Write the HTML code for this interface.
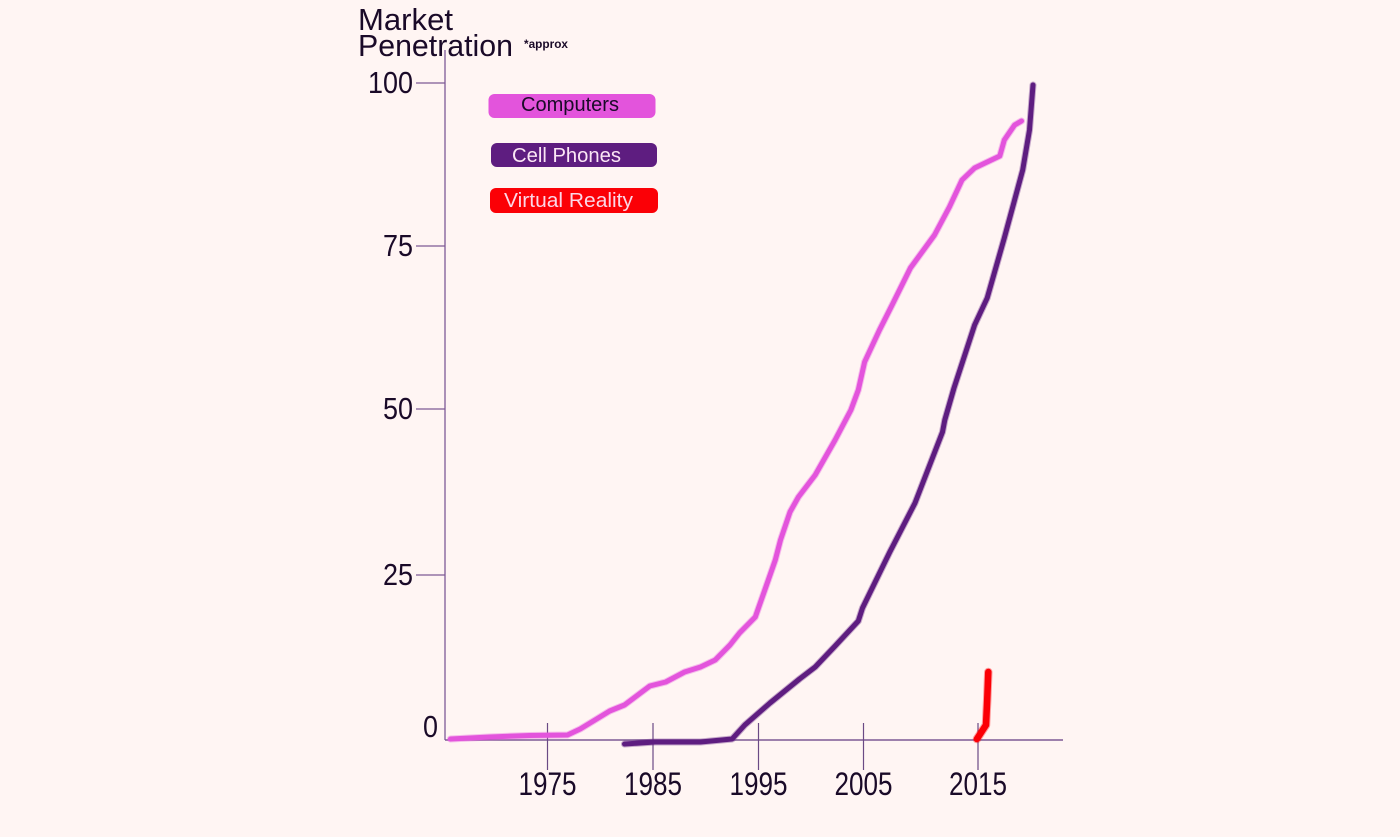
<!DOCTYPE html>
<html lang="en">
<head>
<meta charset="utf-8">
<title>Market Penetration</title>
<style>
html,body{margin:0;padding:0;background:#fff5f3;}
svg{display:block;font-family:"Liberation Sans",sans-serif;}
</style>
</head>
<body>
<svg id="chart" xmlns="http://www.w3.org/2000/svg" width="1400" height="837" viewBox="0 0 1400 837">
  <rect x="0" y="0" width="1400" height="837" fill="#fff5f3"/>
  <g id="axes"></g>
  <g id="series"></g>
  <text x="358" y="30" font-size="31" fill="#1a0a28" textLength="95" lengthAdjust="spacingAndGlyphs">Market</text>
  <text x="358" y="56" font-size="31" fill="#1a0a28" textLength="155" lengthAdjust="spacingAndGlyphs">Penetration</text>
  <text x="524" y="48" font-size="12" font-weight="bold" fill="#1a0a28" textLength="44" lengthAdjust="spacingAndGlyphs">*approx</text>
  <g>
    <g>
      <rect x="488.5" y="94" width="167" height="24" rx="6" fill="#e354dc"/>
      <text x="521" y="111" font-size="20" fill="#1a0a28" textLength="98" lengthAdjust="spacingAndGlyphs">Computers</text>
    </g>
    <g>
      <rect x="491" y="143" width="166" height="24" rx="6" fill="#5e1d80"/>
      <text x="512" y="162" font-size="20" fill="#fbe6f5" textLength="109" lengthAdjust="spacingAndGlyphs">Cell Phones</text>
    </g>
    <g>
      <rect x="490" y="188" width="168" height="25" rx="6" fill="#fb0006"/>
      <text x="504" y="207" font-size="20" fill="#fbd6e6" textLength="129" lengthAdjust="spacingAndGlyphs">Virtual Reality</text>
    </g>
  </g>
</svg>
<script>
const xTickYears = [1975, 1985, 1995, 2005, 2015];
const yTickValues = [0, 25, 50, 75, 100];

const computersYears = [1965.8, 1969.5, 1973.3, 1976.9, 1978.1, 1979.5, 1980.9, 1982.3, 1984.7, 1986.2, 1988, 1989.5, 1990.9, 1992.3, 1993.2, 1994.7, 1995.6, 1996.6, 1997.1, 1998, 1998.8, 2000.4, 2002.3, 2003.8, 2004.5, 2005.1, 2006.4, 2007.5, 2009.1, 2011.2, 2012.5, 2013.6, 2014.7, 2016.9, 2017.3, 2018.2, 2018.8];
const computersValues = [0.15, 0.45, 0.68, 0.76, 1.67, 3.03, 4.39, 5.3, 8.18, 8.79, 10.3, 11.06, 12.12, 14.39, 16.21, 18.64, 22.73, 27.26, 30.27, 34.49, 36.75, 40.06, 45.33, 49.85, 52.91, 57.21, 62.12, 65.95, 71.63, 76.69, 80.98, 85.12, 86.96, 88.8, 91.26, 93.56, 94.17];

const cellPhonesYears = [1982.3, 1985.2, 1989.5, 1992.5, 1993.7, 1996.1, 1998.9, 2000.4, 2002.3, 2004.5, 2004.9, 2007.3, 2009.5, 2011.9, 2012.1, 2012.9, 2014.7, 2015.8, 2017.3, 2018.2, 2018.9, 2019.5, 2019.8];
const cellPhonesValues = [-0.61, -0.3, -0.3, 0.15, 2.27, 5.61, 9.24, 11.06, 14.24, 18.03, 20, 28.46, 35.84, 46.53, 48.34, 53.22, 62.88, 67.02, 76.23, 82.06, 86.66, 92.79, 99.69];

const virtualRealityYears = [2014.9, 2015.7, 2015.8, 2015.9];
const virtualRealityValues = [0.15, 2.27, 6.06, 10.3];

const SVG_NS = 'http://www.w3.org/2000/svg';

function piecewise(domain, range, input) {
  let i = 0;
  while (i < domain.length - 2 && input > domain[i + 1]) i++;
  const t = (input - domain[i]) / (domain[i + 1] - domain[i]);
  return range[i] + t * (range[i + 1] - range[i]);
}

function xScale(year) {
  return piecewise([1975, 1985, 1995, 2005, 2015], [547.5, 653, 758.5, 863.5, 978], year);
}

function yScale(value) {
  return piecewise([0, 25, 50, 75, 100], [740, 575, 409, 246, 83], value);
}

function make(tag, attrs) {
  const el = document.createElementNS(SVG_NS, tag);
  Object.keys(attrs).forEach(function (k) { el.setAttribute(k, attrs[k]); });
  return el;
}

const axes = document.getElementById('axes');
const seriesGroup = document.getElementById('series');

const yAxisLine = make('line', { x1: 445, y1: 50, x2: 445, y2: 740, stroke: '#8f6fa3', 'stroke-width': 1.5 });


axes.appendChild(yAxisLine);

const xAxisLine = make('line', { x1: 445, y1: 740, x2: 1063, y2: 740, stroke: '#7d5a94', 'stroke-width': 1.5 });


axes.appendChild(xAxisLine);

yTickValues.forEach(function (v) {
  if (v !== 0) {
    const tick = make('line', { x1: 416, y1: yScale(v), x2: 445, y2: yScale(v), stroke: '#7d5a94', 'stroke-width': 1.2 });
    
    
    axes.appendChild(tick);
  }
  const label = String(v);
  const text = make('text', {
    x: v === 0 ? 438 : 413,
    y: yScale(v) + (v === 0 ? -3 : 10),
    'font-size': 31,
    fill: '#1a0a28',
    'text-anchor': 'end',
    textLength: label.length * 15,
    lengthAdjust: 'spacingAndGlyphs'
  });
  
  
  text.textContent = label;
  axes.appendChild(text);
});

xTickYears.forEach(function (year) {
  const tick = make('line', { x1: xScale(year), y1: 723, x2: xScale(year), y2: 770, stroke: '#6b4a85', 'stroke-width': 1.2 });
  
  
  axes.appendChild(tick);
  const text = make('text', {
    x: xScale(year),
    y: 795,
    'font-size': 32,
    fill: '#1a0a28',
    'text-anchor': 'middle',
    textLength: 58,
    lengthAdjust: 'spacingAndGlyphs'
  });
  
  
  text.textContent = String(year);
  axes.appendChild(text);
});

function linePath(years, values) {
  return years.map(function (year, i) {
    return (i === 0 ? 'M' : 'L') + xScale(year).toFixed(1) + ' ' + yScale(values[i]).toFixed(1);
  }).join(' ');
}

function drawSeries(years, values, color, width) {
  const d = linePath(years, values);
  const halo = make('path', { d: d, fill: 'none', stroke: color, 'stroke-opacity': 0.35, 'stroke-width': width + 2, 'stroke-linecap': 'round', 'stroke-linejoin': 'round' });
  const line = make('path', { d: d, fill: 'none', stroke: color, 'stroke-width': width, 'stroke-linecap': 'round', 'stroke-linejoin': 'round' });
  seriesGroup.appendChild(halo);
  seriesGroup.appendChild(line);
  return { halo: halo, line: line };
}

const computersMarks = drawSeries(computersYears, computersValues, '#e354dc', 5);





const cellPhonesMarks = drawSeries(cellPhonesYears, cellPhonesValues, '#5e1d80', 5);





const virtualRealityMarks = drawSeries(virtualRealityYears, virtualRealityValues, '#fb0006', 6.5);




</script>
</body>
</html>
